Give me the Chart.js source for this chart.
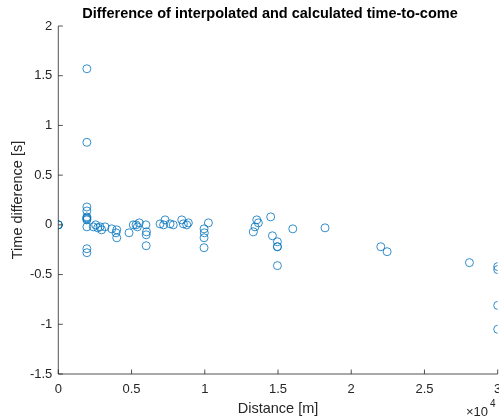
<!DOCTYPE html>
<html>
<head>
<meta charset="utf-8">
<script src="https://cdn.jsdelivr.net/npm/chart.js@4.4.1/dist/chart.umd.min.js"></script>
<style>
  html, body { margin: 0; padding: 0; background: #ffffff; overflow: hidden; }
  #wrap { width: 499px; height: 419px; }
</style>
</head>
<body>
<div id="wrap"><canvas id="c" width="499" height="419"></canvas></div>
<script>
// Distance along the route [m]
const distance = [
  0, 0, 0,
  1950, 1950, 1950, 1950, 1950, 1950, 1950, 1950, 1950, 1950, 1950,
  2390, 2550, 2690, 2850, 2960, 3190, 3650,
  3990, 3940, 3990, 4830,
  5120, 5310, 5400, 5530,
  5980, 6020, 6000, 6000, 6950,
  7190, 7290, 7630, 7850, 8430, 8540, 8770, 8880,
  9950, 9970, 9950, 9950, 10250,
  13320, 13430, 13550, 13660, 14500, 14620, 14960, 14960, 14960, 14960, 16010,
  18210, 22020, 22450, 28070,
  30000, 30000, 30000, 30000
];
// Interpolated minus calculated time-to-come [s]
const timeDiff = [
  0, 0, 0,
  1.57, 0.83, 0.18, 0.14, 0.08, 0.07, 0.06, 0.05, -0.02, -0.24, -0.28,
  -0.02, 0, -0.03, -0.02, -0.05, -0.02, -0.04,
  -0.05, -0.08, -0.13, -0.08,
  0, 0, -0.02, 0.02,
  0, -0.07, -0.1, -0.21, 0.01,
  0, 0.05, 0.01, 0, 0.05, 0.01, 0, 0.02,
  -0.04, -0.08, -0.13, -0.23, 0.02,
  -0.07, -0.02, 0.05, 0.02, 0.08, -0.11, -0.17, -0.22, -0.22, -0.41, -0.04,
  -0.03, -0.22, -0.27, -0.38,
  -0.42, -0.45, -0.81, -1.05
];

const xTickValues = [0, 5000, 10000, 15000, 20000, 25000, 30000];
const xTickLabels = ['0', '0.5', '1', '1.5', '2', '2.5', '3'];
const yTickValues = [-1.5, -1, -0.5, 0, 0.5, 1, 1.5, 2];
const yTickLabels = ['-1.5', '-1', '-0.5', '0', '0.5', '1', '1.5', '2'];

const chartTitle = 'Difference of interpolated and calculated time-to-come';

const FONT = '"Liberation Sans", Arial, Helvetica, sans-serif';
const AXIS_COLOR = '#262626';
const MARKER_COLOR = 'rgb(0,114,189)';

const points = distance.map((d, i) => ({ x: d, y: timeDiff[i] }));

// Axis lines with inward tick marks, the title and the x-axis exponent label
const axesPlugin = {
  id: 'axesPlugin',
  afterDatasetsDraw(chart) {
    const { ctx, chartArea: a, scales: { x, y } } = chart;
    const tick = 4.5;
    ctx.save();
    ctx.strokeStyle = AXIS_COLOR;
    ctx.lineWidth = 0.8;
    ctx.beginPath();
    ctx.moveTo(a.left, a.top);
    ctx.lineTo(a.left, a.bottom);
    ctx.lineTo(a.right, a.bottom);
    xTickValues.forEach(v => {
      const px = x.getPixelForValue(v);
      ctx.moveTo(px, a.bottom);
      ctx.lineTo(px, a.bottom - tick);
    });
    yTickValues.forEach(v => {
      const py = y.getPixelForValue(v);
      ctx.moveTo(a.left, py);
      ctx.lineTo(a.left + tick, py);
    });
    ctx.stroke();

    // title
    ctx.fillStyle = '#000000';
    ctx.font = 'bold 14.5px ' + FONT;
    ctx.textAlign = 'center';
    ctx.textBaseline = 'middle';
    ctx.fillText(chartTitle, 270, 13.5);

    // exponent of the x tick labels
    ctx.fillStyle = AXIS_COLOR;
    ctx.textBaseline = 'alphabetic';
    ctx.textAlign = 'left';
    ctx.font = '13px ' + FONT;
    ctx.fillText('\u00d710', 466, 416);
    ctx.font = '10px ' + FONT;
    ctx.fillText('4', 490, 407);
    ctx.restore();
  }
};

new Chart(document.getElementById('c'), {
  type: 'scatter',
  data: {
    datasets: [{
      data: points,
      showLine: false,
      pointStyle: 'circle',
      pointRadius: 4,
      pointHoverRadius: 4,
      pointBorderWidth: 0.8,
      pointBorderColor: MARKER_COLOR,
      pointBackgroundColor: 'rgba(0,0,0,0)'
    }]
  },
  options: {
    responsive: false,
    animation: false,
    events: [],
    layout: { autoPadding: false, padding: { left: 0, right: 1.3, top: 26, bottom: 0 } },
    plugins: {
      legend: { display: false },
      tooltip: { enabled: false },
      title: { display: false }
    },
    scales: {
      x: {
        type: 'linear',
        min: 0,
        max: 30000,
        afterBuildTicks: s => { s.ticks = xTickValues.map(v => ({ value: v })); },
        afterFit: s => { s.height = 45; s.paddingLeft = 0; s.paddingRight = 0; },
        grid: { display: false, drawTicks: false },
        border: { display: false },
        ticks: {
          color: AXIS_COLOR,
          font: { family: FONT, size: 13 },
          padding: 8,
          maxRotation: 0,
          autoSkip: false,
          callback: (v, i) => xTickLabels[i]
        },
        title: {
          display: true,
          text: 'Distance [m]',
          color: AXIS_COLOR,
          font: { family: FONT, size: 14.5 },
          padding: { top: 0, bottom: 1.5 }
        }
      },
      y: {
        type: 'linear',
        min: -1.5,
        max: 2,
        afterBuildTicks: s => { s.ticks = yTickValues.map(v => ({ value: v })); },
        afterFit: s => { s.width = 58.3; s.paddingTop = 0; s.paddingBottom = 0; },
        grid: { display: false, drawTicks: false },
        border: { display: false },
        ticks: {
          color: AXIS_COLOR,
          font: { family: FONT, size: 13 },
          padding: 6,
          autoSkip: false,
          callback: (v, i) => yTickLabels[i]
        },
        title: {
          display: true,
          text: 'Time difference [s]',
          color: AXIS_COLOR,
          font: { family: FONT, size: 14.5 },
          padding: { top: 9, bottom: 0 }
        }
      }
    }
  },
  plugins: [axesPlugin]
});
</script>
</body>
</html>
